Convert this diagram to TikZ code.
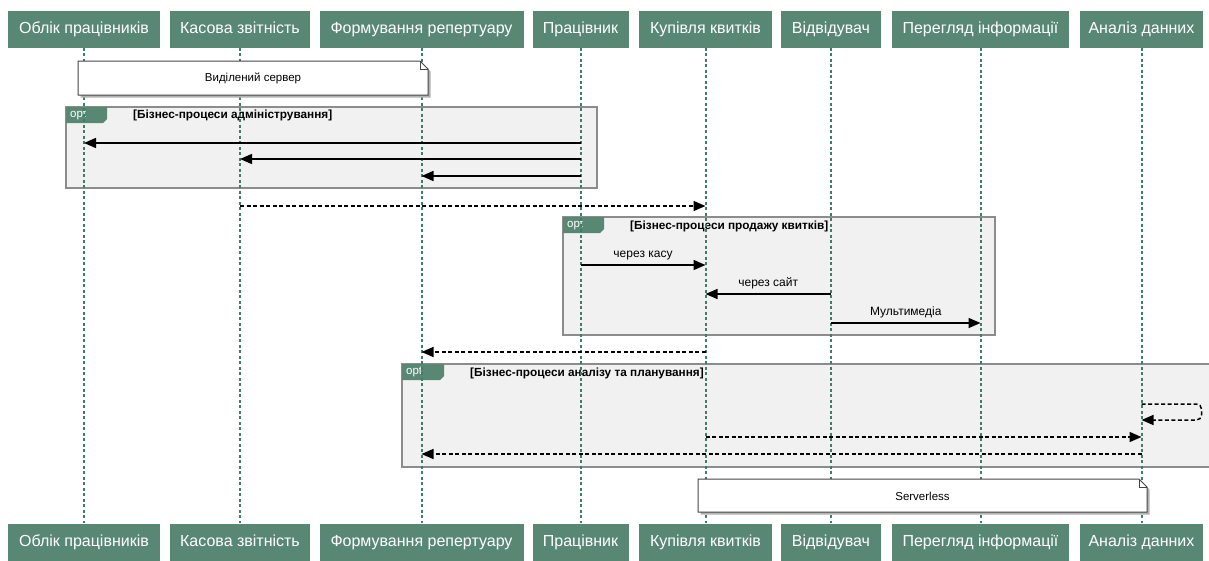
\documentclass[tikz,border=0pt]{standalone}
\usepackage{fontspec}
\setmainfont{Liberation Sans}
\usetikzlibrary{arrows.meta}
\definecolor{pgreen}{RGB}{88,136,116}
\definecolor{lgreen}{RGB}{62,126,102}
\definecolor{framefill}{RGB}{241,241,241}
\definecolor{framedraw}{RGB}{140,140,140}
\definecolor{notedraw}{RGB}{70,70,70}
\begin{document}
\begin{tikzpicture}[x=1pt,y=-1pt,
  pbox/.style={fill=pgreen, text=white, font=\fontsize{16}{18}\selectfont, minimum height=37, inner sep=0, text height=11.5pt, text depth=3.5pt},
  lifeline/.style={lgreen, line width=2, dash pattern=on 3pt off 2.5pt},
  frame/.style={fill=framefill, draw=framedraw, line width=1.3},
  tabfill/.style={fill=pgreen},
  opttext/.style={text=white, font=\fontsize{11.5}{13}\selectfont, anchor=west, inner sep=0},
  flabel/.style={font=\fontsize{11.8}{13}\selectfont\bfseries, anchor=west, inner sep=0},
  msg/.style={line width=1.5, -{Triangle[length=12pt,width=10pt]}},
  dmsg/.style={line width=1.5, dash pattern=on 4pt off 2.5pt, -{Triangle[length=12pt,width=10pt]}},
  mlabel/.style={font=\fontsize{12}{14}\selectfont, inner sep=0, above=4pt},
  notebox/.style={fill=white, draw=notedraw, line width=1},
  noteshadow/.style={fill=black!30},
  ntext/.style={font=\fontsize{11.5}{13}\selectfont, inner sep=0}
]
\useasboundingbox (0,0) rectangle (1209,560);
\fill[white] (0,0) rectangle (1209,560);

% participants (top)
\node[pbox, minimum width=152] (P1) at (84,29) {Облік працівників};
\node[pbox, minimum width=140] (P2) at (240,29) {Касова звітність};
\node[pbox, minimum width=204] (P3) at (421.5,29) {Формування репертуару};
\node[pbox, minimum width=96]  (P4) at (580.5,29) {Працівник};
\node[pbox, minimum width=133] (P5) at (705.5,29) {Купівля квитків};
\node[pbox, minimum width=100] (P6) at (831,29) {Відвідувач};
\node[pbox, minimum width=177] (P7) at (980.5,29) {Перегляд інформації};
\node[pbox, minimum width=123] (P8) at (1141.5,29) {Аналіз данних};
% participants (bottom)
\node[pbox, minimum width=152] (Q1) at (84,542) {Облік працівників};
\node[pbox, minimum width=140] (Q2) at (240,542) {Касова звітність};
\node[pbox, minimum width=204] (Q3) at (421.5,542) {Формування репертуару};
\node[pbox, minimum width=96]  (Q4) at (580.5,542) {Працівник};
\node[pbox, minimum width=133] (Q5) at (705.5,542) {Купівля квитків};
\node[pbox, minimum width=100] (Q6) at (831,542) {Відвідувач};
\node[pbox, minimum width=177] (Q7) at (980.5,542) {Перегляд інформації};
\node[pbox, minimum width=123] (Q8) at (1141.5,542) {Аналіз данних};

% frames
\draw[frame] (66,107) rectangle (597,188);
\fill[tabfill] (66,107) -- (107,107) -- (107,119) -- (103,123) -- (66,123) -- cycle;
\node[opttext] (o1) at (70,115) {opt};
\node[flabel] (f1) at (133,115) {[Бізнес-процеси адміністрування]};

\draw[frame] (563,217) rectangle (995,335);
\fill[tabfill] (563,217) -- (604,217) -- (604,229) -- (600,233) -- (563,233) -- cycle;
\node[opttext] (o2) at (567,225) {opt};
\node[flabel] (f2) at (630,226) {[Бізнес-процеси продажу квитків]};

\draw[frame] (402,364) rectangle (1220,467);
\fill[tabfill] (402,364) -- (444,364) -- (444,376) -- (440,380) -- (402,380) -- cycle;
\node[opttext] (o3) at (406,372) {opt};
\node[flabel] (f3) at (470,373) {[Бізнес-процеси аналізу та планування]};

% lifelines
\foreach \i in {1,...,8} { \draw[lifeline] (P\i) -- (Q\i); }

% notes
\fill[noteshadow] (80.5,63.5) -- (422.5,63.5) -- (430.5,71.5) -- (430.5,97.5) -- (80.5,97.5) -- cycle;
\draw[notebox] (78,61) -- (420,61) -- (428,69) -- (428,95) -- (78,95) -- cycle;
\draw[notedraw, line width=0.8] (420,61) -- (420,69) -- (428,69);
\node[ntext] (n1) at (253,78) {Виділений сервер};

\fill[noteshadow] (700.5,481.5) -- (1141.5,481.5) -- (1149.5,489.5) -- (1149.5,514.5) -- (700.5,514.5) -- cycle;
\draw[notebox] (698,479) -- (1139,479) -- (1147,487) -- (1147,512) -- (698,512) -- cycle;
\draw[notedraw, line width=0.8] (1139,479) -- (1139,487) -- (1147,487);
\node[ntext] (n2) at (922.5,496) {Serverless};

% messages
\draw[msg] (P4 |- 0,143) -- (P1 |- 0,143);
\draw[msg] (P4 |- 0,159) -- (P2 |- 0,159);
\draw[msg] (P4 |- 0,176) -- (P3 |- 0,176);
\draw[dmsg] (P2 |- 0,206) -- (P5 |- 0,206);
\draw[msg] (P4 |- 0,265) -- node[mlabel] (t1) {через касу} (P5 |- 0,265);
\draw[msg] (P6 |- 0,294) -- node[mlabel] (t2) {через сайт} (P5 |- 0,294);
\draw[msg] (P6 |- 0,323) -- node[mlabel] (t3) {Мультимедіа} (P7 |- 0,323);
\draw[dmsg] (P5 |- 0,352) -- (P3 |- 0,352);
\draw[dmsg, rounded corners=5] (P8 |- 0,404) -- ++(60,0) -- ++(0,16) -- (P8 |- 0,420);
\draw[dmsg] (P5 |- 0,437) -- (P8 |- 0,437);
\draw[dmsg] (P8 |- 0,454) -- (P3 |- 0,454);
\end{tikzpicture}
\end{document}
